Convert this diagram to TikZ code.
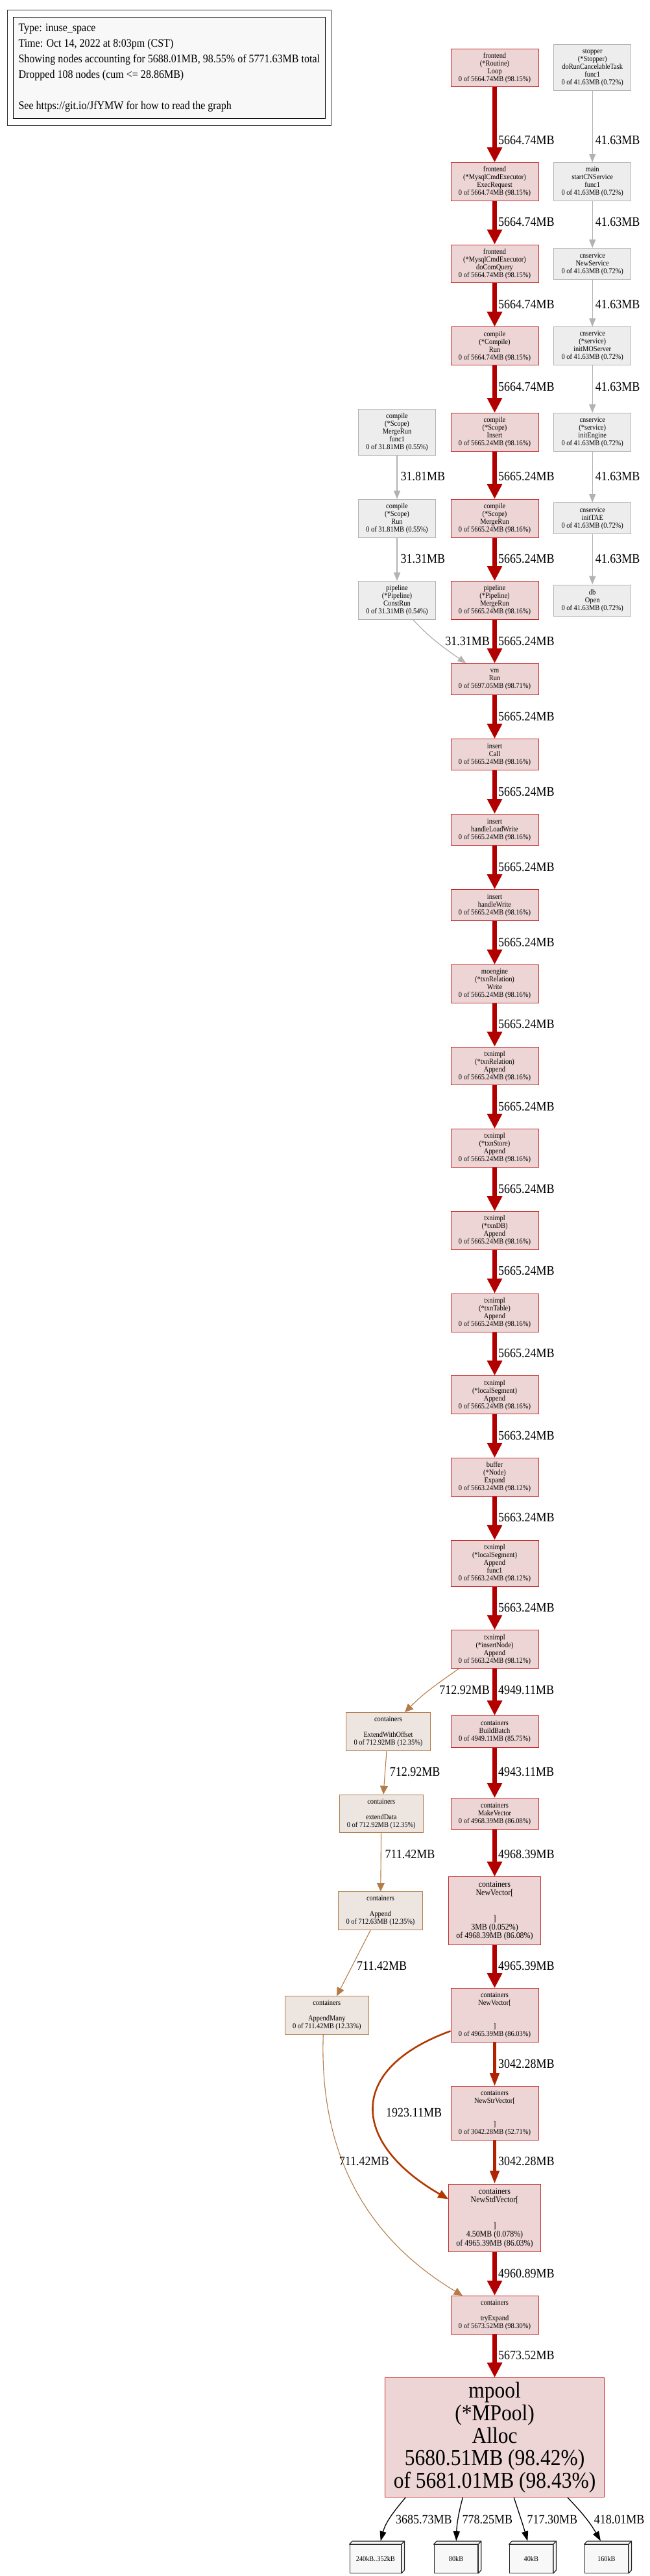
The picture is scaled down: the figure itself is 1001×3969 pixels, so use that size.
\documentclass[tikz,border=0pt]{standalone}
\usepackage{fontspec}
\setmainfont{Liberation Serif}[FakeStretch=0.9]
\usepackage{tikz}
\usetikzlibrary{arrows.meta,fit}
\definecolor{pprofred}{RGB}{178,0,0}
\definecolor{hotborder}{RGB}{196,45,45}
\definecolor{hotfill}{RGB}{237,213,213}
\definecolor{midred}{RGB}{178,34,0}
\definecolor{rust}{RGB}{178,56,0}
\definecolor{coldline}{RGB}{178,178,178}
\definecolor{coldfill}{RGB}{237,237,237}
\definecolor{warmline}{RGB}{180,124,72}
\definecolor{warmfill}{RGB}{237,229,224}
\definecolor{legendfill}{RGB}{248,248,248}

\begin{document}
\begin{tikzpicture}[x=1pt, y=-1pt,
        hot/.style={draw=hotborder, fill=hotfill, line width=1pt, minimum width=135pt, minimum height=58.7pt, inner sep=0pt, align=center, font=\fontsize{11.6}{12}\selectfont},
        hotbig/.style={hot, minimum width=141.6pt, minimum height=104.2pt, font=\fontsize{13.3}{13.3}\selectfont},
        cold/.style={draw=coldline, fill=coldfill, line width=1pt, minimum width=119pt, minimum height=58.7pt, inner sep=0pt, align=center, font=\fontsize{11.6}{12}\selectfont},
        warm/.style={draw=warmline, fill=warmfill, line width=1pt, minimum width=129.6pt, minimum height=58.7pt, inner sep=0pt, align=center, font=\fontsize{11.6}{12}\selectfont},
        leaf/.style={draw=black!85, fill=legendfill, line width=1.2pt, minimum height=43.6pt, inner sep=0pt, font=\fontsize{11.4}{12}\selectfont},
        leafface/.style={draw=black!85, fill=legendfill, line width=1.2pt, line join=round},
        hotarrow/.style={pprofred, line width=6.6pt, -{Triangle[length=23pt,width=22pt]}},
        midarrow/.style={midred, line width=4.2pt, -{Triangle[length=20pt,width=14pt]}},
        rustarrow/.style={rust, line width=2.6pt, -{Triangle[length=16pt,width=13pt]}},
        coldarrow/.style={coldline, line width=1.3pt, -{Triangle[length=13pt,width=10pt]}},
        warmarrow/.style={warmline, line width=1.1pt, -{Triangle[length=13pt,width=12pt]}},
        leafarrow/.style={black, line width=1.3pt, -{Triangle[length=15pt,width=10pt]}},
        lbl/.style={anchor=west, inner sep=0pt, font=\fontsize{20}{20}\selectfont},
        lblr/.style={lbl, anchor=east}
    ]
        \useasboundingbox (0,0) rectangle (1001,3969);

        % Legend
        \node (legend) [draw=black, fill=legendfill, line width=1.2pt, align=left, minimum width=481pt, minimum height=156.4pt, inner xsep=8.4pt, inner ysep=0pt, font=\fontsize{17.8}{24}\selectfont] at (260.8,104.5) {Type: inuse\_space\\Time: Oct 14, 2022 at 8:03pm (CST)\\Showing nodes accounting for 5688.01MB, 98.55\% of 5771.63MB total\\Dropped 108 nodes (cum <= 28.86MB)\\\mbox{}\\See https://git.io/JfYMW for how to read the graph};
        \node (legendframe) [draw=black!80, line width=1pt, inner xsep=8.5pt, inner ysep=10.6pt, fit=(legend)] {};

        % Nodes (hot path)
        \node (loop) [hot] at (762.5,104.5) {frontend\\(*Routine)\\Loop\\0 of 5664.74MB (98.15\%)};
        \node (execreq) [hot] at (762.5,280) {frontend\\(*MysqlCmdExecutor)\\ExecRequest\\0 of 5664.74MB (98.15\%)};
        \node (docomq) [hot] at (762.5,406.5) {frontend\\(*MysqlCmdExecutor)\\doComQuery\\0 of 5664.74MB (98.15\%)};
        \node (comprun) [hot] at (762.5,533.3) {compile\\(*Compile)\\Run\\0 of 5664.74MB (98.15\%)};
        \node (scopeins) [hot] at (762.5,666) {compile\\(*Scope)\\Insert\\0 of 5665.24MB (98.16\%)};
        \node (scopemerge) [hot] at (762.5,798.7) {compile\\(*Scope)\\MergeRun\\0 of 5665.24MB (98.16\%)};
        \node (pipemerge) [hot] at (762.5,925) {pipeline\\(*Pipeline)\\MergeRun\\0 of 5665.24MB (98.16\%)};
        \node (vmrun) [hot, minimum height=48pt] at (762.5,1046.5) {vm\\Run\\0 of 5697.05MB (98.71\%)};
        \node (inscall) [hot, minimum height=48pt] at (762.5,1162.7) {insert\\Call\\0 of 5665.24MB (98.16\%)};
        \node (loadwrite) [hot, minimum height=48pt] at (762.5,1278.5) {insert\\handleLoadWrite\\0 of 5665.24MB (98.16\%)};
        \node (handlewrite) [hot, minimum height=48pt] at (762.5,1394.7) {insert\\handleWrite\\0 of 5665.24MB (98.16\%)};
        \node (relwrite) [hot] at (762.5,1516) {moengine\\(*txnRelation)\\Write\\0 of 5665.24MB (98.16\%)};
        \node (relappend) [hot] at (762.5,1642.5) {txnimpl\\(*txnRelation)\\Append\\0 of 5665.24MB (98.16\%)};
        \node (storeappend) [hot] at (762.5,1769) {txnimpl\\(*txnStore)\\Append\\0 of 5665.24MB (98.16\%)};
        \node (dbappend) [hot] at (762.5,1896) {txnimpl\\(*txnDB)\\Append\\0 of 5665.24MB (98.16\%)};
        \node (tableappend) [hot] at (762.5,2022.7) {txnimpl\\(*txnTable)\\Append\\0 of 5665.24MB (98.16\%)};
        \node (segappend) [hot] at (762.5,2149.3) {txnimpl\\(*localSegment)\\Append\\0 of 5665.24MB (98.16\%)};
        \node (nodeexpand) [hot] at (762.5,2276) {buffer\\(*Node)\\Expand\\0 of 5663.24MB (98.12\%)};
        \node (segfunc) [hot, minimum height=70.7pt] at (762.5,2408.7) {txnimpl\\(*localSegment)\\Append\\func1\\0 of 5663.24MB (98.12\%)};
        \node (insappend) [hot] at (762.5,2541.2) {txnimpl\\(*insertNode)\\Append\\0 of 5663.24MB (98.12\%)};
        \node (buildbatch) [hot, minimum height=48.6pt] at (762.5,2668) {containers\\BuildBatch\\0 of 4949.11MB (85.75\%)};
        \node (makevector) [hot, minimum height=48pt] at (762.5,2794.7) {containers\\MakeVector\\0 of 4968.39MB (86.08\%)};
        \node (newvec) [hotbig] at (762.5,2944) {containers\\NewVector[\\\mbox{}\\\mbox{}\\]\\3MB (0.052\%)\\of 4968.39MB (86.08\%)};
        \node (newvecb) [hot, minimum height=82.6pt] at (762.5,3105) {containers\\NewVector[\\\mbox{}\\\mbox{}\\]\\0 of 4965.39MB (86.03\%)};
        \node (newstr) [hot, minimum height=82.6pt] at (762.5,3256) {containers\\NewStrVector[\\\mbox{}\\\mbox{}\\]\\0 of 3042.28MB (52.71\%)};
        \node (newstd) [hotbig] at (762.5,3417.2) {containers\\NewStdVector[\\\mbox{}\\\mbox{}\\]\\4.50MB (0.078\%)\\of 4965.39MB (86.03\%)};
        \node (tryexpand) [hot] at (762.5,3566.7) {containers\\\mbox{}\\tryExpand\\0 of 5673.52MB (98.30\%)};
        \node (mpool) [hot, minimum width=338.7pt, minimum height=184pt, font=\fontsize{35}{34.7}\selectfont] at (762.6,3755.7) {mpool\\(*MPool)\\Alloc\\5680.51MB (98.42\%)\\of 5681.01MB (98.43\%)};

        % Nodes (service side)
        \node (stopper) [cold, minimum height=71pt] at (913.2,104.5) {stopper\\(*Stopper)\\doRunCancelableTask\\func1\\0 of 41.63MB (0.72\%)};
        \node (startcn) [cold] at (913.2,280) {main\\startCNService\\func1\\0 of 41.63MB (0.72\%)};
        \node (newservice) [cold, minimum height=48pt] at (913.2,406.7) {cnservice\\NewService\\0 of 41.63MB (0.72\%)};
        \node (initmo) [cold] at (913.2,533.3) {cnservice\\(*service)\\initMOServer\\0 of 41.63MB (0.72\%)};
        \node (initengine) [cold] at (913.2,666) {cnservice\\(*service)\\initEngine\\0 of 41.63MB (0.72\%)};
        \node (inittae) [cold, minimum height=48pt] at (913.2,798.7) {cnservice\\initTAE\\0 of 41.63MB (0.72\%)};
        \node (dbopen) [cold, minimum height=48.3pt] at (913.2,925.2) {db\\Open\\0 of 41.63MB (0.72\%)};

        % Nodes (const run side)
        \node (mergefunc) [cold, minimum width=119.4pt, minimum height=70.6pt] at (612,666) {compile\\(*Scope)\\MergeRun\\func1\\0 of 31.81MB (0.55\%)};
        \node (scoperun) [cold, minimum width=119.4pt] at (612,798.7) {compile\\(*Scope)\\Run\\0 of 31.81MB (0.55\%)};
        \node (construn) [cold, minimum width=119.4pt] at (612,925) {pipeline\\(*Pipeline)\\ConstRun\\0 of 31.31MB (0.54\%)};

        % Nodes (append side)
        \node (ewo) [warm] at (598.5,2668) {containers\\\mbox{}\\ExtendWithOffset\\0 of 712.92MB (12.35\%)};
        \node (extdata) [warm] at (587.8,2794.5) {containers\\\mbox{}\\extendData\\0 of 712.92MB (12.35\%)};
        \node (contappend) [warm] at (586.5,2944) {containers\\\mbox{}\\Append\\0 of 712.63MB (12.35\%)};
        \node (appendmany) [warm] at (503.8,3105.2) {containers\\\mbox{}\\AppendMany\\0 of 711.42MB (12.33\%)};

        % Leaves
        \node (leafa) [leaf, minimum width=79pt] at (578.8,3942.5) {240kB..352kB};
        \node (leafb) [leaf, minimum width=67.4pt] at (703,3942.5) {80kB};
        \node (leafc) [leaf, minimum width=67pt] at (818.8,3942.5) {40kB};
        \node (leafd) [leaf, minimum width=67pt] at (934.8,3942.5) {160kB};
        \draw[leafface] (leafa.north west) -- ++(4.5,-5) -- ([shift={(4.5,-5)}]leafa.north east) -- ([shift={(4.5,-5)}]leafa.south east) -- (leafa.south east) -- (leafa.north east) -- cycle (leafa.north east) -- ++(4.5,-5);
        \draw[leafface] (leafb.north west) -- ++(4.5,-5) -- ([shift={(4.5,-5)}]leafb.north east) -- ([shift={(4.5,-5)}]leafb.south east) -- (leafb.south east) -- (leafb.north east) -- cycle (leafb.north east) -- ++(4.5,-5);
        \draw[leafface] (leafc.north west) -- ++(4.5,-5) -- ([shift={(4.5,-5)}]leafc.north east) -- ([shift={(4.5,-5)}]leafc.south east) -- (leafc.south east) -- (leafc.north east) -- cycle (leafc.north east) -- ++(4.5,-5);
        \draw[leafface] (leafd.north west) -- ++(4.5,-5) -- ([shift={(4.5,-5)}]leafd.north east) -- ([shift={(4.5,-5)}]leafd.south east) -- (leafd.south east) -- (leafd.north east) -- cycle (leafd.north east) -- ++(4.5,-5);

        % Arrows (hot path)
        \draw[hotarrow] (loop) -- (execreq);
        \draw[hotarrow] (execreq) -- (docomq);
        \draw[hotarrow] (docomq) -- (comprun);
        \draw[hotarrow] (comprun) -- (scopeins);
        \draw[hotarrow] (scopeins) -- (scopemerge);
        \draw[hotarrow] (scopemerge) -- (pipemerge);
        \draw[hotarrow] (pipemerge) -- (vmrun);
        \draw[hotarrow] (vmrun) -- (inscall);
        \draw[hotarrow] (inscall) -- (loadwrite);
        \draw[hotarrow] (loadwrite) -- (handlewrite);
        \draw[hotarrow] (handlewrite) -- (relwrite);
        \draw[hotarrow] (relwrite) -- (relappend);
        \draw[hotarrow] (relappend) -- (storeappend);
        \draw[hotarrow] (storeappend) -- (dbappend);
        \draw[hotarrow] (dbappend) -- (tableappend);
        \draw[hotarrow] (tableappend) -- (segappend);
        \draw[hotarrow] (segappend) -- (nodeexpand);
        \draw[hotarrow] (nodeexpand) -- (segfunc);
        \draw[hotarrow] (segfunc) -- (insappend);
        \draw[hotarrow] (insappend) -- (buildbatch);
        \draw[hotarrow] (buildbatch) -- (makevector);
        \draw[hotarrow] (makevector) -- (newvec);
        \draw[hotarrow] (newvec) -- (newvecb);
        \draw[midarrow] (newvecb) -- (newstr);
        \draw[midarrow] (newstr) -- (newstd);
        \draw[hotarrow] (newstd) -- (tryexpand);
        \draw[hotarrow] (tryexpand) -- (mpool);
        \draw[rustarrow] ([yshift=-24.3pt]newvecb.west) to[out=200, in=150, looseness=1.7] ([yshift=28.9pt]newstd.west);

        % Arrows (side paths)
        \draw[coldarrow] (stopper) -- (startcn);
        \draw[coldarrow] (startcn) -- (newservice);
        \draw[coldarrow] (newservice) -- (initmo);
        \draw[coldarrow] (initmo) -- (initengine);
        \draw[coldarrow] (initengine) -- (inittae);
        \draw[coldarrow] (inittae) -- (dbopen);
        \draw[coldarrow] (mergefunc) -- (scoperun);
        \draw[coldarrow] (scoperun) -- (construn);
        \draw[coldarrow] ([xshift=24.7pt]construn.south) to[out=-47, in=145] ([xshift=-44pt]vmrun.north);
        \draw[warmarrow] ([xshift=12.7pt]insappend.south west) to[out=215, in=45] ([xshift=25.5pt]ewo.north);
        \draw[warmarrow] ([xshift=-2.5pt]ewo.south) -- ([xshift=3.2pt]extdata.north);
        \draw[warmarrow] (extdata) -- (contappend);
        \draw[warmarrow] (contappend) -- (appendmany);
        \draw[warmarrow] ([xshift=-5.5pt]appendmany.south) to[out=268, in=149] ([xshift=18.3pt]tryexpand.north west);
        \draw[leafarrow] ([xshift=-137.6pt]mpool.south) to[out=230, in=75] ([xshift=7.9pt,yshift=5pt]leafa.north);
        \draw[leafarrow] ([xshift=-49.3pt]mpool.south) to[out=255, in=88] ([xshift=0.3pt,yshift=5pt]leafb.north);
        \draw[leafarrow] ([xshift=29.7pt]mpool.south) to[out=288, in=106] ([xshift=-5.5pt,yshift=5pt]leafc.north);
        \draw[leafarrow] ([xshift=112.4pt]mpool.south) to[out=314, in=120] ([xshift=-8.8pt,yshift=5pt]leafd.north);

        % Annotations
        \node (lab01) [lbl] at (768,216) {5664.74MB};
        \node (lab02) [lbl] at (768,342) {5664.74MB};
        \node (lab03) [lbl] at (768,468.7) {5664.74MB};
        \node (lab04) [lbl] at (768,596) {5664.74MB};
        \node (lab05) [lbl] at (768,734) {5665.24MB};
        \node (lab06) [lbl] at (768,860.7) {5665.24MB};
        \node (lab07) [lbl] at (768,988.3) {5665.24MB};
        \node (lab08) [lbl] at (768,1104) {5665.24MB};
        \node (lab09) [lbl] at (768,1220) {5665.24MB};
        \node (lab10) [lbl] at (768,1335.8) {5665.24MB};
        \node (lab11) [lbl] at (768,1451.9) {5665.24MB};
        \node (lab12) [lbl] at (768,1578.2) {5665.24MB};
        \node (lab13) [lbl] at (768,1704.6) {5665.24MB};
        \node (lab14) [lbl] at (768,1831.8) {5665.24MB};
        \node (lab15) [lbl] at (768,1957.7) {5665.24MB};
        \node (lab16) [lbl] at (768,2084.7) {5665.24MB};
        \node (lab17) [lbl] at (768,2212.2) {5663.24MB};
        \node (lab18) [lbl] at (768,2337.7) {5663.24MB};
        \node (lab19) [lbl] at (768,2477.3) {5663.24MB};
        \node (lab20) [lbl] at (768,2604) {4949.11MB};
        \node (lab21) [lbl] at (768,2730) {4943.11MB};
        \node (lab22) [lbl] at (768,2857.3) {4968.39MB};
        \node (lab23) [lbl] at (768,3029.3) {4965.39MB};
        \node (lab24) [lbl] at (768,3180) {3042.28MB};
        \node (lab25) [lbl] at (768,3330) {3042.28MB};
        \node (lab26) [lbl] at (768,3502.7) {4960.89MB};
        \node (lab27) [lbl] at (768,3629.3) {5673.52MB};
        \node (labs1) [lbl] at (917.7,216) {41.63MB};
        \node (labs2) [lbl] at (917.7,342) {41.63MB};
        \node (labs3) [lbl] at (917.7,468.7) {41.63MB};
        \node (labs4) [lbl] at (917.7,596) {41.63MB};
        \node (labs5) [lbl] at (917.7,734) {41.63MB};
        \node (labs6) [lbl] at (917.7,860.7) {41.63MB};
        \node (labc1) [lbl] at (617.3,734) {31.81MB};
        \node (labc2) [lbl] at (617.3,860.7) {31.31MB};
        \node (labc3) [lblr] at (755,988.3) {31.31MB};
        \node (labw1) [lblr] at (755,2604) {712.92MB};
        \node (labw2) [lbl] at (600.7,2730) {712.92MB};
        \node (labw3) [lbl] at (593.3,2857.3) {711.42MB};
        \node (labw4) [lbl] at (550,3029.3) {711.42MB};
        \node (labw5) [lbl] at (522.7,3330) {711.42MB};
        \node (labr) [lbl] at (595,3255) {1923.11MB};
        \node (labf1) [lbl] at (610,3881.7) {3685.73MB};
        \node (labf2) [lbl] at (712.3,3881.7) {778.25MB};
        \node (labf3) [lbl] at (812.3,3881.7) {717.30MB};
        \node (labf4) [lbl] at (915.7,3881.7) {418.01MB};
    \end{tikzpicture}
\end{document}
